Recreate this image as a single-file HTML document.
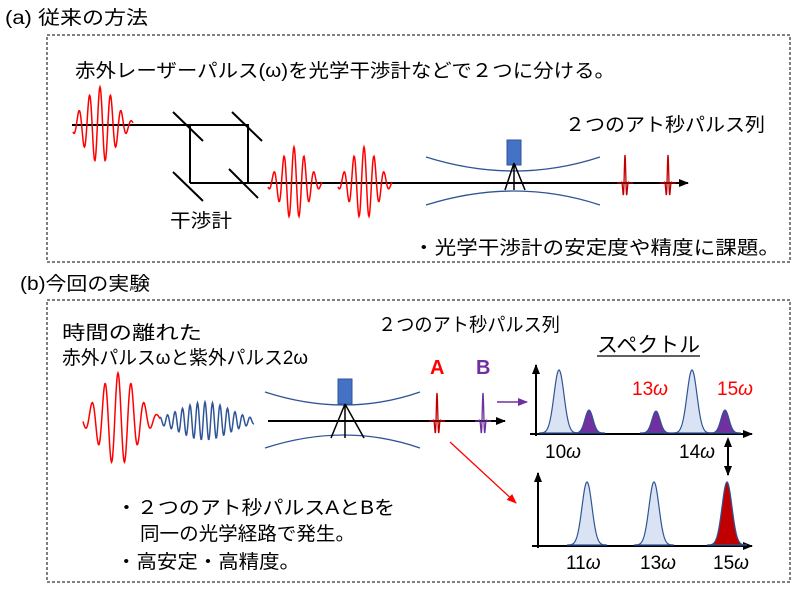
<!DOCTYPE html>
<html><head><meta charset="utf-8"><style>
body{margin:0;background:#fff;width:800px;height:589px;overflow:hidden}
svg{display:block}
text{font-family:"Liberation Sans","Noto Sans CJK JP",sans-serif;fill:#000}
.j{font-size:19px}
</style></head><body>
<svg id="s" width="800" height="589" viewBox="0 0 800 589">
<defs>
<marker id="ak" markerWidth="10" markerHeight="8" refX="9" refY="4" orient="auto" markerUnits="userSpaceOnUse"><path d="M0,0L10,4L0,8z" fill="#000"/></marker>
<marker id="ap" markerWidth="10" markerHeight="8" refX="9" refY="4" orient="auto" markerUnits="userSpaceOnUse"><path d="M0,0L10,4L0,8z" fill="#7030a0"/></marker>
<marker id="ar" markerWidth="10" markerHeight="8" refX="9" refY="4" orient="auto" markerUnits="userSpaceOnUse"><path d="M0,0L10,4L0,8z" fill="#ff0000"/></marker>
<marker id="ak2" markerWidth="10" markerHeight="8" refX="1" refY="4" orient="auto-start-reverse" markerUnits="userSpaceOnUse"><path d="M0,0L10,4L0,8z" fill="#000"/></marker>
</defs>
<text x="5" y="24" class="j" font-size="20" textLength="143" lengthAdjust="spacingAndGlyphs">(a) 従来の方法</text>
<rect x="47" y="35" width="743" height="227" fill="none" stroke="#000" stroke-dasharray="3,2"/>
<text x="75" y="77" class="j" textLength="540" lengthAdjust="spacingAndGlyphs">赤外レーザーパルス(ω)を光学干渉計などで２つに分ける。</text>
<g stroke="#000" stroke-width="2" fill="none">
<path d="M72,125H248V183M190,125V183M190,183H688" marker-end="url(#ak)"/>
<path d="M173,112L203,141M232,112L262,141M173,172L203,201M229,169L258,198"/>
</g>
<g stroke="#2f5597" stroke-width="1.3" fill="none">
<path d="M426,157Q515,185 600,157M426,205Q515,177 600,205"/>
<path d="M265,392Q345,418 420,392M265,448Q345,422 420,448"/>
</g>
<rect x="507" y="140" width="14" height="25" fill="#4472c4" stroke="#2f5597"/>
<path d="M514,163L505,190M514,163V190M514,163L525,190" stroke="#000" stroke-width="1.5"/>
<text x="565" y="131" class="j" textLength="200" lengthAdjust="spacingAndGlyphs">２つのアト秒パルス列</text>
<text x="170" y="227" class="j" textLength="62" lengthAdjust="spacingAndGlyphs">干渉計</text>
<text x="413" y="254" class="j" textLength="367" lengthAdjust="spacingAndGlyphs">・光学干渉計の安定度や精度に課題。</text>

<text x="20" y="290" class="j" textLength="130" lengthAdjust="spacingAndGlyphs">(b)今回の実験</text>
<rect x="47" y="300" width="743" height="282" fill="none" stroke="#000" stroke-dasharray="3,2"/>
<text x="62" y="339" class="j" textLength="140" lengthAdjust="spacingAndGlyphs">時間の離れた</text>
<text x="62" y="364" class="j" textLength="246" lengthAdjust="spacingAndGlyphs">赤外パルスωと紫外パルス2ω</text>
<path d="M268,421H505" stroke="#000" stroke-width="2" marker-end="url(#ak)"/>
<rect x="338" y="379" width="14" height="25" fill="#4472c4" stroke="#2f5597"/>
<path d="M345,404L331,438M345,404V438M345,404L364,438" stroke="#000" stroke-width="1.5"/>
<text x="378" y="331" class="j" textLength="182" lengthAdjust="spacingAndGlyphs">２つのアト秒パルス列</text>
<text x="430" y="374" font-size="20" font-weight="bold" style="fill:#ff0000">A</text>
<text x="476" y="374" font-size="20" font-weight="bold" style="fill:#7030a0">B</text>
<path d="M497,402H527" stroke="#7030a0" stroke-width="1.5" marker-end="url(#ap)"/>
<path d="M450,442L516,503" stroke="#ff0000" stroke-width="1.3" marker-end="url(#ar)"/>
<text x="597" y="352" font-size="21" textLength="103" lengthAdjust="spacingAndGlyphs">スペクトル</text>
<path d="M597,356H700" stroke="#000" stroke-width="1.3"/>
<g stroke="#000" stroke-width="2">
<path d="M536,436V365" marker-end="url(#ak)"/>
<path d="M530,434H752" marker-end="url(#ak)"/>
<path d="M538,548V473" marker-end="url(#ak)"/>
<path d="M532,546H752" marker-end="url(#ak)"/>
<path d="M728,446V475" marker-end="url(#ak)" marker-start="url(#ak2)"/>
</g>
<g font-family="Liberation Serif" font-size="19">
<text x="545" y="458">10<tspan font-style="italic">ω</tspan></text>
<text x="679" y="458">14<tspan font-style="italic">ω</tspan></text>
<text x="632" y="395" style="fill:#ff0000">13<tspan font-style="italic">ω</tspan></text>
<text x="717" y="395" style="fill:#ff0000">15<tspan font-style="italic">ω</tspan></text>
<text x="566" y="569">11<tspan font-style="italic">ω</tspan></text>
<text x="640" y="569">13<tspan font-style="italic">ω</tspan></text>
<text x="713" y="569">15<tspan font-style="italic">ω</tspan></text>
</g>
<text x="116" y="514" class="j" textLength="279" lengthAdjust="spacingAndGlyphs">・２つのアト秒パルスAとBを</text>
<text x="140" y="540" class="j" textLength="215" lengthAdjust="spacingAndGlyphs">同一の光学経路で発生。</text>
<text x="116" y="568" class="j" textLength="184" lengthAdjust="spacingAndGlyphs">・高安定・高精度。</text>
<g id="g"></g>
</svg>
<script>
var g=document.getElementById('g'),NS='http://www.w3.org/2000/svg';
function P(d,st,f,w){var p=document.createElementNS(NS,'path');p.setAttribute('d',d);p.setAttribute('stroke',st);p.setAttribute('fill',f||'none');p.setAttribute('stroke-width',w||1.5);g.appendChild(p);}
function wave(x0,x1,cx,y,A,per,sig,col,w){var d='';for(var x=x0;x<=x1;x+=0.5){var t=x-cx;var v=y-A*Math.exp(-t*t/(2*sig*sig))*Math.cos(2*Math.PI*t/per);d+=(x==x0?'M':'L')+x.toFixed(1)+','+v.toFixed(1);}P(d,col,null,w);}
wave(73,133,100,125,38,10.5,15,'#ff0000',1.5);
wave(268,322,294,183,36,10,13,'#ff0000',1.5);
wave(338,392,364,183,36,10,13,'#ff0000',1.5);
wave(83,160,118,419,46,13,18,'#ff0000',1.5);
wave(160,254,205,421,19,7.5,25,'#2f5597',1.5);
function spike(x,y,A,col){var d='';for(var t=-8;t<=8;t+=0.25){var v=y-A*Math.exp(-t*t/4)*Math.cos(2*Math.PI*t/4);d+=(t==-8?'M':'L')+(x+t).toFixed(2)+','+v.toFixed(1);}P(d,col,null,1.3);}
spike(625,183,28,'#c00000');spike(668,183,28,'#c00000');
spike(437,421,28,'#c00000');spike(483,421,28,'#7030a0');
function peak(cx,base,top,s,fill){var d='';for(var t=-4*s;t<=4*s;t+=0.5){var v=base-(base-top)*Math.exp(-t*t/(2*s*s));d+=(t==-4*s?'M':'L')+(cx+t).toFixed(1)+','+v.toFixed(1);}P(d+'Z','#2f5597',fill,1.2);}
var lb='#dae3f3',pu='#7030a0';
peak(559,433,370,5,lb);peak(589,433,410,4,pu);peak(656,433,411,4,pu);peak(692,433,370,5,lb);peak(725,433,410,4,pu);
peak(587,545,482,5,lb);peak(654,545,482,5,lb);peak(727,545,482,5,'#c00000');
</script>
</body></html>
